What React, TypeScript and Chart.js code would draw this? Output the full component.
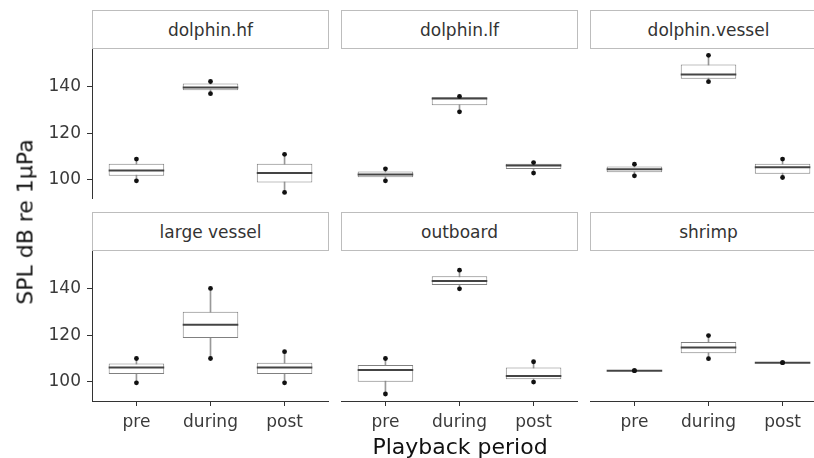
import React, { useEffect, useRef } from "react";
import { Chart, registerables } from "chart.js";
Chart.register(...registerables);

// ---------- data ----------
const facets = ["dolphin.hf", "dolphin.lf", "dolphin.vessel", "large vessel", "outboard", "shrimp"];
const periods = ["pre", "during", "post"];
const yTicks = [100, 120, 140];
const yMin = 91.8;
const yMax = 156;

// per facet: [pre, during, post]
const whiskerLow = [
  [99.6, 136.9, 94.6],
  [99.6, 129.1, 102.9],
  [101.7, 142.0, 101.0],
  [99.6, 110.0, 99.6],
  [94.8, 139.8, 99.9],
  [104.8, 109.9, 108.2],
];
const boxLow = [
  [101.7, 138.3, 98.9],
  [101.1, 131.9, 104.6],
  [103.3, 143.3, 102.6],
  [103.4, 118.8, 103.4],
  [100.0, 141.5, 101.1],
  [104.8, 112.2, 108.2],
];
const medians = [
  [104.0, 139.5, 102.9],
  [102.3, 134.8, 106.1],
  [104.5, 145.1, 105.4],
  [106.1, 124.4, 106.1],
  [105.1, 143.2, 102.5],
  [104.8, 114.7, 108.2],
];
const boxHigh = [
  [106.9, 141.2, 106.9],
  [103.6, 135.3, 106.9],
  [105.7, 149.4, 106.9],
  [107.9, 130.0, 108.2],
  [107.2, 145.2, 106.1],
  [104.8, 117.1, 108.2],
];
const whiskerHigh = [
  [108.9, 142.1, 110.9],
  [104.7, 135.7, 107.4],
  [106.7, 153.3, 108.9],
  [110.0, 140.0, 112.9],
  [110.0, 147.8, 108.6],
  [104.8, 119.8, 108.2],
];

// ---------- layout ----------
const COL_LEFT = [92, 341, 590];
const PANEL_W = 237;
const STRIP_TOP = [10, 212];
const STRIP_H = 39;
const PLOT_H = 150;
const Y_AXIS_W = 60;
const X_AXIS_H = 45;
const FONT = '"DejaVu Sans", "Liberation Sans", sans-serif';
const AXIS_COLOR = "#333";

function Panel({ f, row, col }: { f: number; row: number; col: number }) {
  const ref = useRef<HTMLCanvasElement | null>(null);
  const showY = col === 0;
  const showX = row === 1;
  const width = PANEL_W + (showY ? Y_AXIS_W : 0);
  const height = PLOT_H + (showX ? X_AXIS_H : 0);
  const left = COL_LEFT[col] - (showY ? Y_AXIS_W : 0);
  const top = STRIP_TOP[row] + STRIP_H;

  useEffect(() => {
    if (!ref.current) return;
    const xs = periods.map((_, i) => i + 1);
    const halfBox = (ctx: any) => {
      const s = ctx.chart.scales.x;
      return Math.abs(s.getPixelForValue(0.375) - s.getPixelForValue(0));
    };
    const pts: { x: number; y: number }[] = [];
    xs.forEach((x, i) => {
      pts.push({ x, y: whiskerLow[f][i] });
      pts.push({ x, y: whiskerHigh[f][i] });
    });
    const chart = new Chart(ref.current, {
      type: "bar",
      data: {
        datasets: [
          {
            type: "scatter",
            data: pts,
            pointStyle: "circle",
            radius: 2.4,
            backgroundColor: "#111",
            borderWidth: 0,
            order: 0,
          } as any,
          {
            type: "scatter",
            data: xs.map((x, i) => ({ x, y: medians[f][i] })),
            pointStyle: "line",
            radius: halfBox,
            borderColor: "#444",
            borderWidth: 2,
            order: 1,
          } as any,
          {
            type: "bar",
            data: xs.map((x, i) => ({ x, y: [boxLow[f][i], boxHigh[f][i]] })),
            backgroundColor: "#fff",
            borderColor: "#808080",
            borderWidth: 1,
            borderSkipped: false,
            barPercentage: 0.75,
            categoryPercentage: 1,
            grouped: false,
            order: 2,
          } as any,
          {
            type: "bar",
            data: xs.map((x, i) => ({ x, y: [whiskerLow[f][i], whiskerHigh[f][i]] })),
            backgroundColor: "#999",
            borderWidth: 0,
            barThickness: 1,
            grouped: false,
            order: 3,
          } as any,
        ],
      },
      options: {
        responsive: false,
        animation: false,
        devicePixelRatio: 1,
        layout: { padding: 0, autoPadding: false },
        plugins: { legend: { display: false }, tooltip: { enabled: false } },
        events: [],
        scales: {
          x: {
            type: "linear",
            min: 0.4,
            max: 3.6,
            offset: false,
            display: showX,
            afterBuildTicks: (s: any) => {
              s.ticks = xs.map((v) => ({ value: v }));
            },
            afterFit: (s: any) => {
              if (showX) s.height = X_AXIS_H;
              s.paddingLeft = 0;
              s.paddingRight = 0;
            },
            ticks: {
              callback: (v: any) => periods[Math.round(Number(v)) - 1] ?? "",
              font: { family: FONT, size: 17 },
              color: "#3a3a3a",
              padding: 6,
              maxRotation: 0,
              autoSkip: false,
            },
            grid: { display: true, drawOnChartArea: false, drawTicks: true, tickLength: 5, tickColor: AXIS_COLOR, tickWidth: 1, offset: false },
            border: { display: true, color: AXIS_COLOR, width: 1 },
          } as any,
          y: {
            type: "linear",
            min: yMin,
            max: yMax,
            display: showY,
            afterBuildTicks: (s: any) => {
              s.ticks = yTicks.map((v) => ({ value: v }));
            },
            afterFit: (s: any) => {
              if (showY) s.width = Y_AXIS_W;
              s.paddingTop = 0;
              s.paddingBottom = 0;
            },
            ticks: {
              font: { family: FONT, size: 17 },
              color: "#3a3a3a",
              padding: 6,
            },
            grid: { display: true, drawOnChartArea: false, drawTicks: true, tickLength: 5, tickColor: AXIS_COLOR, tickWidth: 1 },
            border: { display: true, color: AXIS_COLOR, width: 1 },
          } as any,
        },
      } as any,
    });
    return () => chart.destroy();
  }, [f, row, col]);

  return (
    <>
      <div
        style={{
          position: "absolute",
          left: COL_LEFT[col],
          top: STRIP_TOP[row],
          width: PANEL_W,
          height: STRIP_H,
          boxSizing: "border-box",
          border: "1px solid #bdbdbd",
          background: "#fff",
          display: "flex",
          alignItems: "center",
          justifyContent: "center",
          fontSize: 17,
          color: "#333",
          whiteSpace: "nowrap",
        }}
      >
        {facets[f]}
      </div>
      <canvas
        ref={ref}
        width={width}
        height={height}
        style={{ position: "absolute", left, top, width, height }}
      />
    </>
  );
}

export default function App() {
  return (
    <div
      style={{
        position: "absolute",
        left: 0,
        top: 0,
        width: 814,
        height: 458,
        overflow: "hidden",
        background: "#fff",
        fontFamily: FONT,
      }}
    >
      {facets.map((_, f) => (
        <Panel key={f} f={f} row={Math.floor(f / 3)} col={f % 3} />
      ))}
      <div
        style={{
          position: "absolute",
          left: 25,
          top: 222,
          transform: "translate(-50%, -50%) rotate(-90deg)",
          fontSize: 22,
          color: "#111",
          whiteSpace: "nowrap",
        }}
      >
        SPL dB re 1μPa
      </div>
      <div
        style={{
          position: "absolute",
          left: 460,
          top: 446,
          transform: "translate(-50%, -50%)",
          fontSize: 22,
          color: "#111",
          whiteSpace: "nowrap",
        }}
      >
        Playback period
      </div>
    </div>
  );
}
